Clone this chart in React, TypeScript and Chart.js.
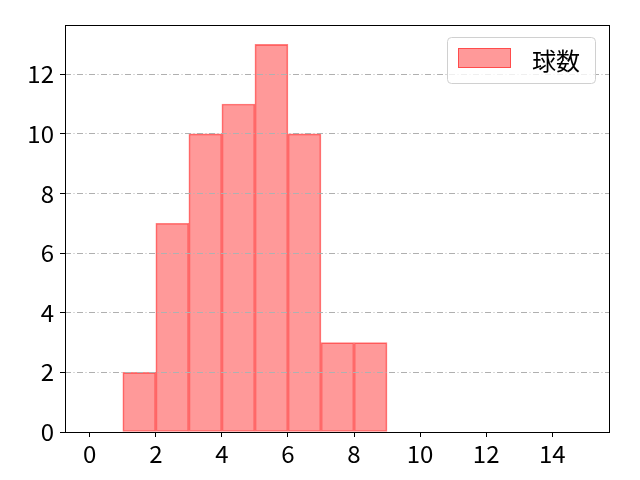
import React, { useEffect, useRef } from 'react';
import { Chart, registerables } from 'chart.js';

Chart.register(...registerables);

// histogram bins (start of each bin, width 1) and counts
const binStarts = [0, 1, 2, 3, 4, 5, 6, 7, 8, 9, 10, 11, 12, 13, 14];
const counts = [0, 2, 7, 10, 11, 13, 10, 3, 3, 0, 0, 0, 0, 0, 0];
const xTicks = [0, 2, 4, 6, 8, 10, 12, 14];
const yTicks = [0, 2, 4, 6, 8, 10, 12];
const seriesLabel = '球数';

const FONT = '"Noto Sans CJK JP", "Noto Sans", sans-serif';

// matplotlib style frame around the plot area
const framePlugin = {
  id: 'frame',
  afterDraw(chart: any) {
    const { ctx, chartArea } = chart;
    ctx.save();
    ctx.strokeStyle = '#000';
    ctx.lineWidth = 1;
    ctx.strokeRect(chartArea.left + 0.5, chartArea.top + 0.5, chartArea.right - chartArea.left - 1, chartArea.bottom - chartArea.top);
    ctx.restore();
  },
};

// legend box in the upper right corner
const legendPlugin = {
  id: 'boxLegend',
  afterDraw(chart: any) {
    const { ctx, chartArea } = chart;
    const ds = chart.data.datasets[0];
    const w = 148, h = 46;
    const x = chartArea.right - 15 - w;
    const y = chartArea.top + 12;
    ctx.save();
    ctx.beginPath();
    ctx.roundRect(x + 0.5, y + 0.5, w, h, 4);
    ctx.fillStyle = 'rgba(255,255,255,0.8)';
    ctx.fill();
    ctx.strokeStyle = '#d0d0d0';
    ctx.lineWidth = 1;
    ctx.stroke();
    ctx.fillStyle = ds.backgroundColor;
    ctx.fillRect(x + 11, y + 11, 53, 20);
    ctx.strokeStyle = ds.borderColor;
    ctx.strokeRect(x + 11.5, y + 11.5, 52, 19);
    ctx.fillStyle = '#000';
    ctx.font = `24px ${FONT}`;
    ctx.textBaseline = 'middle';
    ctx.fillText(ds.label, x + 85, y + h / 2 + 1);
    ctx.restore();
  },
};

export default function App() {
  const canvasRef = useRef<HTMLCanvasElement | null>(null);
  const chartRef = useRef<Chart | null>(null);

  useEffect(() => {
    document.body.style.margin = '0';
    if (!canvasRef.current) return;
    if (chartRef.current) chartRef.current.destroy();

    chartRef.current = new Chart(canvasRef.current, {
      type: 'bar',
      data: {
        datasets: [
          {
            label: seriesLabel,
            data: binStarts.map((s, i) => ({ x: s + 0.5, y: counts[i] })),
            backgroundColor: 'rgba(255, 0, 0, 0.4)',
            borderColor: 'rgba(255, 0, 0, 0.5)',
            borderWidth: 1,
            borderSkipped: false,
            barPercentage: 1,
            categoryPercentage: 1,
          },
        ],
      },
      options: {
        responsive: false,
        animation: false,
        events: [],
        layout: { padding: { left: 0, right: 30, top: 25, bottom: 0 } },
        plugins: {
          legend: { display: false },
          tooltip: { enabled: false },
        },
        scales: {
          x: {
            type: 'linear',
            min: -0.75,
            max: 15.75,
            offset: false,
            afterBuildTicks: (scale: any) => {
              scale.ticks = xTicks.map((v) => ({ value: v }));
            },
            afterFit: (scale: any) => {
              scale.height = 48;
            },
            grid: {
              offset: false,
              drawOnChartArea: false,
              drawTicks: true,
              tickLength: 5,
              tickColor: '#000',
              tickWidth: 1,
            },
            border: { display: false },
            ticks: {
              color: '#000',
              padding: 2,
              maxRotation: 0,
              font: { family: FONT, size: 24 },
            },
          },
          y: {
            min: 0,
            max: 13.65,
            afterBuildTicks: (scale: any) => {
              scale.ticks = yTicks.map((v) => ({ value: v }));
            },
            afterFit: (scale: any) => {
              scale.width = 65;
            },
            grid: {
              z: 1,
              color: (c: any) => (c.tick && c.tick.value === 0 ? 'rgba(0,0,0,0)' : '#b0b0b0'),
              lineWidth: 1,
              drawTicks: true,
              tickLength: 5,
              tickColor: '#000',
              tickWidth: 1,
            },
            border: { display: false, dash: [6, 2.5, 1, 2.5] },
            ticks: {
              color: '#000',
              padding: 6,
              font: { family: FONT, size: 24 },
            },
          },
        },
      },
      plugins: [framePlugin, legendPlugin],
    } as any);

    return () => {
      if (chartRef.current) {
        chartRef.current.destroy();
        chartRef.current = null;
      }
    };
  }, []);

  return (
    <div style={{ width: 640, height: 480 }}>
      <canvas ref={canvasRef} width={640} height={480}></canvas>
    </div>
  );
}
